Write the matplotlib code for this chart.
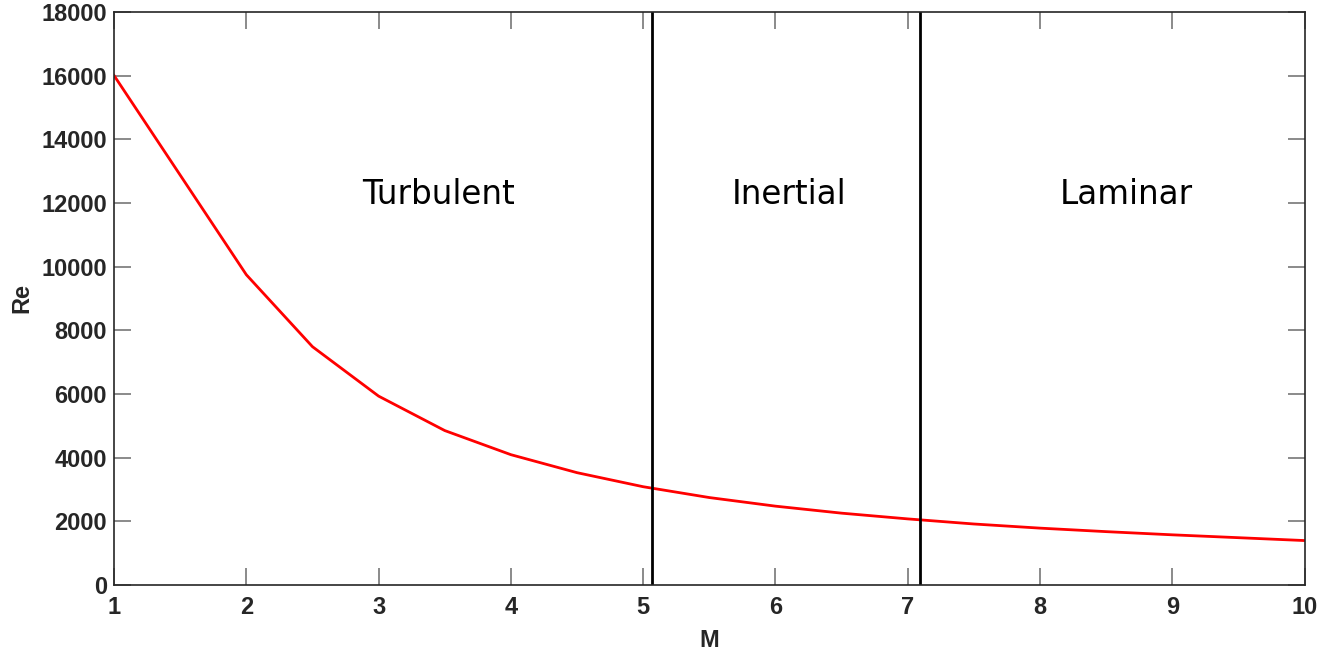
import matplotlib
matplotlib.use("Agg")
import matplotlib.pyplot as plt

M = [1, 2, 2.5, 3, 3.5, 4, 4.5, 5, 5.5, 6, 6.5, 7, 7.5, 8, 8.5, 9, 9.5, 10]
Re = [16000, 9745, 7486, 5934, 4853, 4096, 3531, 3090, 2750, 2480, 2260, 2080,
      1920, 1790, 1680, 1580, 1490, 1400]
boundaries = [5.07, 7.09]
regions = ["Turbulent", "Inertial", "Laminar"]
region_x = [3.45, 6.1, 8.65]
region_y = [12250, 12250, 12250]
xticks = list(range(1, 11))
yticks = list(range(0, 18001, 2000))

fig = plt.figure(figsize=(13.34, 6.56), dpi=100)
ax = fig.add_axes([0.0855, 0.108, 0.8925, 0.874])
ax.plot(M, Re, color="#ff0000", lw=2)
for b in boundaries:
    ax.axvline(b, color="black", lw=2)
for t, x, y in zip(regions, region_x, region_y):
    ax.text(x, y, t, ha="center", va="center", fontsize=23.5, family="DejaVu Sans")

ax.set_xlim(1, 10)
ax.set_ylim(0, 18000)
ax.set_xticks(xticks)
ax.set_yticks(yticks)
tc = "#262626"
for s in ax.spines.values():
    s.set_color(tc)
    s.set_linewidth(1.2)
ax.tick_params(direction="in", length=12, width=1.2, color="#777777", top=True, right=True,
               labelcolor=tc, labelsize=17, pad=5)
ax.tick_params(axis="x", pad=8)
for lab in ax.get_xticklabels() + ax.get_yticklabels():
    lab.set_fontweight("bold")
    lab.set_family("Liberation Sans")
ax.set_xlabel("M", fontsize=17, fontweight="bold", family="Liberation Sans", color=tc, labelpad=7)
ax.set_ylabel("Re", fontsize=17, fontweight="bold", family="Liberation Sans", color=tc, labelpad=6)
fig.savefig("out.png", dpi=100)
